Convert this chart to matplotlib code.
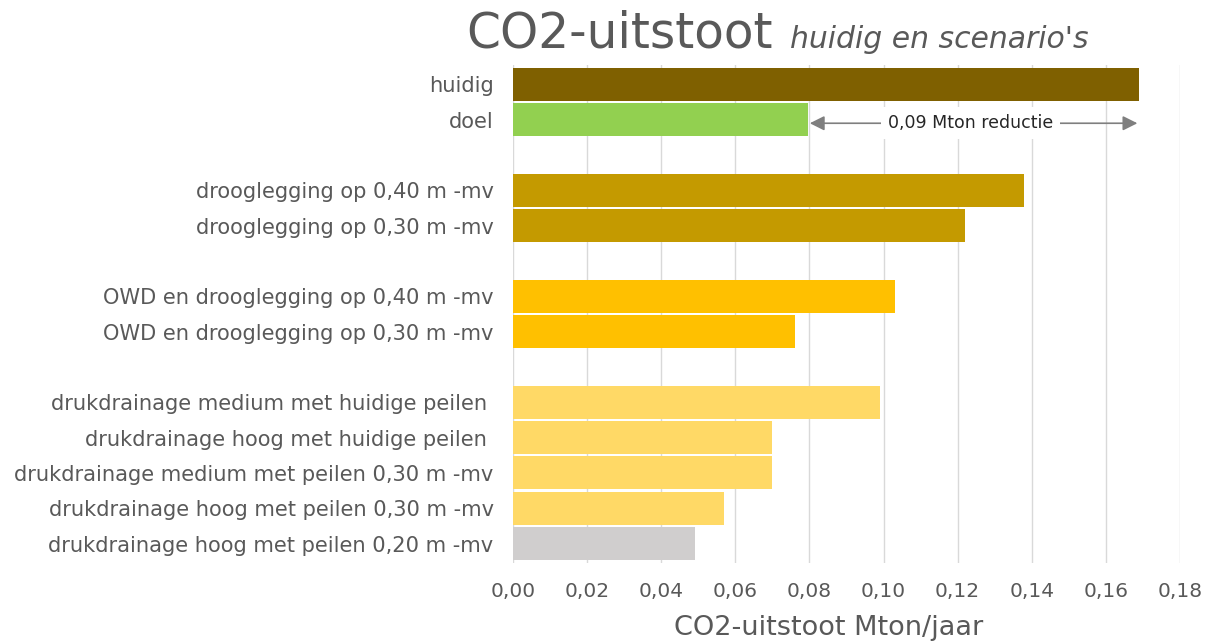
import numpy as np
import matplotlib.pyplot as plt

# data
groups = [
    ["huidig", "doel"],
    ["drooglegging op 0,40 m -mv", "drooglegging op 0,30 m -mv"],
    ["OWD en drooglegging op 0,40 m -mv", "OWD en drooglegging op 0,30 m -mv"],
    ["drukdrainage medium met huidige peilen ", "drukdrainage hoog met huidige peilen ",
     "drukdrainage medium met peilen 0,30 m -mv", "drukdrainage hoog met peilen 0,30 m -mv",
     "drukdrainage hoog met peilen 0,20 m -mv"],
]
values = [
    [0.169, 0.0796],
    [0.138, 0.122],
    [0.103, 0.076],
    [0.099, 0.070, 0.070, 0.057, 0.049],
]
colors = [
    ["#7F6000", "#92D050"],
    ["#C49A00", "#C49A00"],
    ["#FFC000", "#FFC000"],
    ["#FFD966", "#FFD966", "#FFD966", "#FFD966", "#D0CECE"],
]
reduction_label = "0,09 Mton reductie"
xticks = np.arange(0, 0.181, 0.02)

grey = "#595959"

fig = plt.figure(figsize=(12.11, 6.42), dpi=100)
ax = fig.add_axes([0.4236, 0.1231, 0.5508, 0.7757])

labels, vals, cols, pos = [], [], [], []
p = 0
for g, v, c in zip(groups, values, colors):
    for lab, val, col in zip(g, v, c):
        labels.append(lab)
        vals.append(val)
        cols.append(col)
        pos.append(p)
        p += 1
    p += 1  # lege rij tussen groepen

ax.barh(pos, vals, height=0.93, color=cols, zorder=2)
ax.set_yticks(pos)
ax.set_yticklabels(labels, fontsize=15.1, color=grey)
ax.set_ylim(pos[-1] + 0.55, -0.55)
ax.set_xlim(0, 0.18)
ax.set_xticks(xticks)
ax.set_xticklabels([f"{t:.2f}".replace(".", ",") for t in xticks], fontsize=14.5, color=grey)
ax.tick_params(axis="y", length=0, pad=14)
ax.tick_params(axis="x", length=0, pad=14)
ax.grid(axis="x", color="#d9d9d9", linewidth=1, zorder=0)
for s in ax.spines.values():
    s.set_visible(False)
ax.set_xlabel("CO2-uitstoot Mton/jaar", fontsize=19.5, color=grey, labelpad=10)
ax.xaxis.label.set_x(0.473)

# pijl tussen doel en huidig
y_doel = pos[1]
ax.annotate("", xy=(vals[0] - 0.0005, y_doel + 0.1), xytext=(vals[1] + 0.0005, y_doel + 0.1),
            arrowprops=dict(arrowstyle="<|-|>", color="#7f7f7f", lw=1.2,
                            mutation_scale=22, shrinkA=0, shrinkB=0), zorder=3)
ax.text(0.1235, y_doel + 0.1, reduction_label, ha="center", va="center",
        fontsize=12.5, color="#262626",
        bbox=dict(facecolor="white", edgecolor="none", pad=5), zorder=4)

# titel
fig.text(773 / 1211, 1 - 48 / 642, "CO2-uitstoot", ha="right", va="baseline",
         fontsize=35, color=grey)
fig.text(790 / 1211, 1 - 48 / 642, "huidig en scenario's", ha="left", va="baseline",
         fontsize=21.5, color=grey, style="italic")

fig.savefig("out.png", dpi=100, facecolor="white")
